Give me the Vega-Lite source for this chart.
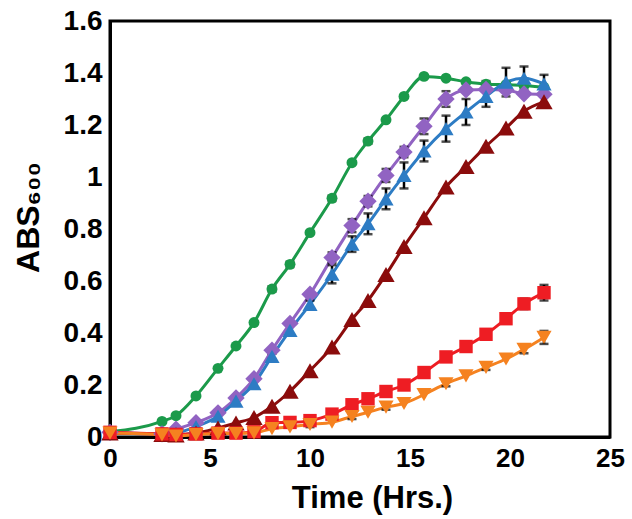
{
  "$schema": "https://vega.github.io/schema/vega-lite/v6.json",
  "autosize": {"type": "none"},
  "padding": {"left": 110, "top": 21, "right": 22, "bottom": 82},
  "width": 500,
  "height": 416,
  "datasets": {
    "xticks": [{"t": 5}, {"t": 10}, {"t": 15}, {"t": 20}],
    "yticks": [{"v": 0.2}, {"v": 0.4}, {"v": 0.6}, {"v": 0.8}, {"v": 1.0}, {"v": 1.2}, {"v": 1.4}]
  },
  "data": {
    "values": [
      {"s": "S1", "t": 0, "v": 0.02, "err": 0},
      {"s": "S1", "t": 2.6, "v": 0.06, "err": 0},
      {"s": "S1", "t": 3.3, "v": 0.082, "err": 0},
      {"s": "S1", "t": 4.3, "v": 0.158, "err": 0},
      {"s": "S1", "t": 5.4, "v": 0.264, "err": 0},
      {"s": "S1", "t": 6.3, "v": 0.35, "err": 0},
      {"s": "S1", "t": 7.2, "v": 0.44, "err": 0},
      {"s": "S1", "t": 8.1, "v": 0.569, "err": 0.01},
      {"s": "S1", "t": 9.0, "v": 0.664, "err": 0.01},
      {"s": "S1", "t": 10.0, "v": 0.786, "err": 0},
      {"s": "S1", "t": 11.1, "v": 0.918, "err": 0.01},
      {"s": "S1", "t": 12.1, "v": 1.055, "err": 0},
      {"s": "S1", "t": 12.9, "v": 1.138, "err": 0.01},
      {"s": "S1", "t": 13.8, "v": 1.22, "err": 0},
      {"s": "S1", "t": 14.7, "v": 1.31, "err": 0},
      {"s": "S1", "t": 15.7, "v": 1.387, "err": 0},
      {"s": "S1", "t": 16.8, "v": 1.38, "err": 0},
      {"s": "S1", "t": 17.8, "v": 1.366, "err": 0},
      {"s": "S1", "t": 18.8, "v": 1.357, "err": 0.012},
      {"s": "S1", "t": 19.8, "v": 1.355, "err": 0},
      {"s": "S1", "t": 20.7, "v": 1.352, "err": 0},
      {"s": "S1", "t": 21.7, "v": 1.345, "err": 0},

      {"s": "S2", "t": 0, "v": 0.018, "err": 0},
      {"s": "S2", "t": 2.6, "v": 0.012, "err": 0},
      {"s": "S2", "t": 3.3, "v": 0.03, "err": 0},
      {"s": "S2", "t": 4.3, "v": 0.055, "err": 0},
      {"s": "S2", "t": 5.4, "v": 0.093, "err": 0},
      {"s": "S2", "t": 6.3, "v": 0.15, "err": 0},
      {"s": "S2", "t": 7.2, "v": 0.224, "err": 0},
      {"s": "S2", "t": 8.1, "v": 0.334, "err": 0},
      {"s": "S2", "t": 9.0, "v": 0.437, "err": 0},
      {"s": "S2", "t": 10.0, "v": 0.549, "err": 0},
      {"s": "S2", "t": 11.1, "v": 0.69, "err": 0.02},
      {"s": "S2", "t": 12.1, "v": 0.813, "err": 0.025},
      {"s": "S2", "t": 12.9, "v": 0.907, "err": 0.02},
      {"s": "S2", "t": 13.8, "v": 1.006, "err": 0.025},
      {"s": "S2", "t": 14.7, "v": 1.096, "err": 0.02},
      {"s": "S2", "t": 15.7, "v": 1.195, "err": 0.03},
      {"s": "S2", "t": 16.8, "v": 1.3, "err": 0.03},
      {"s": "S2", "t": 17.8, "v": 1.335, "err": 0},
      {"s": "S2", "t": 18.8, "v": 1.337, "err": 0},
      {"s": "S2", "t": 19.8, "v": 1.335, "err": 0},
      {"s": "S2", "t": 20.7, "v": 1.32, "err": 0},
      {"s": "S2", "t": 21.7, "v": 1.318, "err": 0},

      {"s": "S3", "t": 0, "v": 0.018, "err": 0},
      {"s": "S3", "t": 2.6, "v": 0.01, "err": 0},
      {"s": "S3", "t": 3.3, "v": 0.015, "err": 0},
      {"s": "S3", "t": 4.3, "v": 0.04, "err": 0},
      {"s": "S3", "t": 5.4, "v": 0.08, "err": 0},
      {"s": "S3", "t": 6.3, "v": 0.138, "err": 0},
      {"s": "S3", "t": 7.2, "v": 0.205, "err": 0},
      {"s": "S3", "t": 8.1, "v": 0.31, "err": 0.01},
      {"s": "S3", "t": 9.0, "v": 0.41, "err": 0},
      {"s": "S3", "t": 10.0, "v": 0.51, "err": 0.015},
      {"s": "S3", "t": 11.1, "v": 0.626, "err": 0.035},
      {"s": "S3", "t": 12.1, "v": 0.742, "err": 0.03},
      {"s": "S3", "t": 12.9, "v": 0.82, "err": 0.04},
      {"s": "S3", "t": 13.8, "v": 0.916, "err": 0.04},
      {"s": "S3", "t": 14.7, "v": 1.006, "err": 0.05},
      {"s": "S3", "t": 15.7, "v": 1.1, "err": 0.04},
      {"s": "S3", "t": 16.8, "v": 1.186, "err": 0.05},
      {"s": "S3", "t": 17.8, "v": 1.25, "err": 0.05},
      {"s": "S3", "t": 18.8, "v": 1.31, "err": 0.04},
      {"s": "S3", "t": 19.8, "v": 1.365, "err": 0.055},
      {"s": "S3", "t": 20.7, "v": 1.38, "err": 0.045},
      {"s": "S3", "t": 21.7, "v": 1.358, "err": 0.035},

      {"s": "S4", "t": 0, "v": 0.015, "err": 0},
      {"s": "S4", "t": 2.6, "v": 0.01, "err": 0},
      {"s": "S4", "t": 3.3, "v": 0.008, "err": 0},
      {"s": "S4", "t": 4.3, "v": 0.015, "err": 0},
      {"s": "S4", "t": 5.4, "v": 0.035, "err": 0},
      {"s": "S4", "t": 6.3, "v": 0.054, "err": 0},
      {"s": "S4", "t": 7.2, "v": 0.075, "err": 0},
      {"s": "S4", "t": 8.1, "v": 0.118, "err": 0},
      {"s": "S4", "t": 9.0, "v": 0.176, "err": 0},
      {"s": "S4", "t": 10.0, "v": 0.255, "err": 0},
      {"s": "S4", "t": 11.1, "v": 0.346, "err": 0},
      {"s": "S4", "t": 12.1, "v": 0.452, "err": 0},
      {"s": "S4", "t": 12.9, "v": 0.525, "err": 0},
      {"s": "S4", "t": 13.8, "v": 0.625, "err": 0},
      {"s": "S4", "t": 14.7, "v": 0.733, "err": 0},
      {"s": "S4", "t": 15.7, "v": 0.843, "err": 0},
      {"s": "S4", "t": 16.8, "v": 0.962, "err": 0},
      {"s": "S4", "t": 17.8, "v": 1.04, "err": 0},
      {"s": "S4", "t": 18.8, "v": 1.118, "err": 0},
      {"s": "S4", "t": 19.8, "v": 1.188, "err": 0},
      {"s": "S4", "t": 20.7, "v": 1.253, "err": 0},
      {"s": "S4", "t": 21.7, "v": 1.289, "err": 0},

      {"s": "S5", "t": 0, "v": 0.018, "err": 0},
      {"s": "S5", "t": 2.6, "v": 0.012, "err": 0},
      {"s": "S5", "t": 3.3, "v": 0.01, "err": 0},
      {"s": "S5", "t": 4.3, "v": 0.012, "err": 0},
      {"s": "S5", "t": 5.4, "v": 0.015, "err": 0},
      {"s": "S5", "t": 6.3, "v": 0.015, "err": 0},
      {"s": "S5", "t": 7.2, "v": 0.02, "err": 0},
      {"s": "S5", "t": 8.1, "v": 0.055, "err": 0},
      {"s": "S5", "t": 9.0, "v": 0.056, "err": 0},
      {"s": "S5", "t": 10.0, "v": 0.063, "err": 0.01},
      {"s": "S5", "t": 11.1, "v": 0.088, "err": 0},
      {"s": "S5", "t": 12.1, "v": 0.124, "err": 0},
      {"s": "S5", "t": 12.9, "v": 0.147, "err": 0},
      {"s": "S5", "t": 13.8, "v": 0.175, "err": 0.01},
      {"s": "S5", "t": 14.7, "v": 0.2, "err": 0},
      {"s": "S5", "t": 15.7, "v": 0.248, "err": 0},
      {"s": "S5", "t": 16.8, "v": 0.308, "err": 0},
      {"s": "S5", "t": 17.8, "v": 0.348, "err": 0},
      {"s": "S5", "t": 18.8, "v": 0.395, "err": 0},
      {"s": "S5", "t": 19.8, "v": 0.455, "err": 0},
      {"s": "S5", "t": 20.7, "v": 0.512, "err": 0.02},
      {"s": "S5", "t": 21.7, "v": 0.555, "err": 0.03},

      {"s": "S6", "t": 0, "v": 0.015, "err": 0},
      {"s": "S6", "t": 2.6, "v": 0.008, "err": 0},
      {"s": "S6", "t": 3.3, "v": 0.004, "err": 0},
      {"s": "S6", "t": 4.3, "v": 0.009, "err": 0},
      {"s": "S6", "t": 5.4, "v": 0.013, "err": 0},
      {"s": "S6", "t": 6.3, "v": 0.013, "err": 0},
      {"s": "S6", "t": 7.2, "v": 0.016, "err": 0},
      {"s": "S6", "t": 8.1, "v": 0.032, "err": 0},
      {"s": "S6", "t": 9.0, "v": 0.039, "err": 0},
      {"s": "S6", "t": 10.0, "v": 0.048, "err": 0.01},
      {"s": "S6", "t": 11.1, "v": 0.057, "err": 0},
      {"s": "S6", "t": 12.1, "v": 0.079, "err": 0.01},
      {"s": "S6", "t": 12.9, "v": 0.095, "err": 0},
      {"s": "S6", "t": 13.8, "v": 0.115, "err": 0.01},
      {"s": "S6", "t": 14.7, "v": 0.129, "err": 0},
      {"s": "S6", "t": 15.7, "v": 0.163, "err": 0},
      {"s": "S6", "t": 16.8, "v": 0.205, "err": 0.01},
      {"s": "S6", "t": 17.8, "v": 0.235, "err": 0},
      {"s": "S6", "t": 18.8, "v": 0.268, "err": 0.01},
      {"s": "S6", "t": 19.8, "v": 0.3, "err": 0},
      {"s": "S6", "t": 20.7, "v": 0.337, "err": 0.015},
      {"s": "S6", "t": 21.7, "v": 0.383, "err": 0.025}
    ]
  },
  "encoding": {
    "x": {
      "field": "t", "type": "quantitative",
      "title": "Time (Hrs.)",
      "scale": {"domain": [0, 25], "nice": false},
      "axis": {
        "values": [0, 5, 10, 15, 20, 25],
        "ticks": false,
        "grid": false,
        "labelPadding": 8,
        "labelFontSize": 26,
        "labelFlush": false,
        "titleX": 262,
        "titleY": 70,
        "titleBaseline": "alphabetic"
      }
    },
    "y": {
      "field": "v", "type": "quantitative",
      "title": "ABS₆₀₀",
      "scale": {"domain": [0, 1.6], "nice": false},
      "axis": {
        "values": [0, 0.2, 0.4, 0.6, 0.8, 1, 1.2, 1.4, 1.6],
        "format": "~g",
        "ticks": false,
        "grid": false,
        "labelPadding": 8,
        "labelFontSize": 28,
        "labelFlush": false,
        "titleFontSize": 32,
        "titleX": -72,
        "titleY": 196,
        "titleBaseline": "alphabetic"
      }
    }
  },
  "layer": [
    {
      "data": {"name": "xticks"},
      "mark": {"type": "tick", "orient": "vertical", "size": 10, "thickness": 3.5, "color": "black", "opacity": 1, "yOffset": -5},
      "encoding": {"y": {"datum": 0, "type": "quantitative"}}
    },
    {
      "data": {"name": "xticks"},
      "mark": {"type": "tick", "orient": "vertical", "size": 10, "thickness": 3.5, "color": "black", "opacity": 1, "yOffset": 5},
      "encoding": {"y": {"datum": 1.6, "type": "quantitative"}}
    },
    {
      "data": {"name": "yticks"},
      "mark": {"type": "tick", "orient": "horizontal", "size": 10, "thickness": 3.5, "color": "black", "opacity": 1, "xOffset": 5},
      "encoding": {"x": {"datum": 0, "type": "quantitative"}}
    },
    {
      "data": {"name": "yticks"},
      "mark": {"type": "tick", "orient": "horizontal", "size": 10, "thickness": 3.5, "color": "black", "opacity": 1, "xOffset": -5},
      "encoding": {"x": {"datum": 25, "type": "quantitative"}}
    },
    {
      "mark": {"type": "line", "interpolate": "monotone", "strokeWidth": 3},
      "encoding": {
        "color": {
          "field": "s", "type": "nominal", "legend": null,
          "scale": {
            "domain": ["S1", "S2", "S3", "S4", "S5", "S6"],
            "range": ["#1b9a4a", "#9163c2", "#2d7cc4", "#8b0c0c", "#ee1d23", "#f58220"]
          }
        }
      }
    },
    {
      "transform": [{"filter": "datum.err > 0"}],
      "mark": {
        "type": "errorbar",
        "color": "black",
        "thickness": 2.5,
        "ticks": {"size": 9, "thickness": 2.5, "color": "black"}
      },
      "encoding": {
        "yError": {"field": "err"}
      }
    },
    {
      "transform": [{"filter": "datum.s == 'S1'"}],
      "mark": {"type": "point", "shape": "circle", "size": 120, "filled": true, "opacity": 1, "color": "#1b9a4a"},
      "encoding": {}
    },
    {
      "transform": [{"filter": "datum.s == 'S2'"}],
      "mark": {"type": "point", "shape": "diamond", "size": 300, "filled": true, "opacity": 1, "color": "#9163c2"},
      "encoding": {}
    },
    {
      "transform": [{"filter": "datum.s == 'S3'"}],
      "mark": {"type": "point", "shape": "triangle-up", "size": 230, "filled": true, "opacity": 1, "color": "#2d7cc4"},
      "encoding": {}
    },
    {
      "transform": [{"filter": "datum.s == 'S4'"}],
      "mark": {"type": "point", "shape": "triangle-up", "size": 300, "filled": true, "opacity": 1, "color": "#8b0c0c"},
      "encoding": {}
    },
    {
      "transform": [{"filter": "datum.s == 'S5'"}],
      "mark": {"type": "point", "shape": "square", "size": 180, "filled": true, "opacity": 1, "color": "#ee1d23"},
      "encoding": {}
    },
    {
      "transform": [{"filter": "datum.s == 'S6'"}],
      "mark": {"type": "point", "shape": "triangle-down", "size": 230, "filled": true, "opacity": 1, "color": "#f58220"},
      "encoding": {}
    }
  ],
  "config": {
    "font": "Liberation Sans",
    "view": {"stroke": "black", "strokeWidth": 3},
    "axis": {
      "domainColor": "black",
      "domainWidth": 3,
      "labelFont": "Liberation Sans",
      "labelFontWeight": "bold",
      "labelFontSize": 26,
      "labelColor": "black",
      "titleFont": "Liberation Sans",
      "titleFontWeight": "bold",
      "titleFontSize": 31,
      "titleColor": "black"
    }
  }
}
